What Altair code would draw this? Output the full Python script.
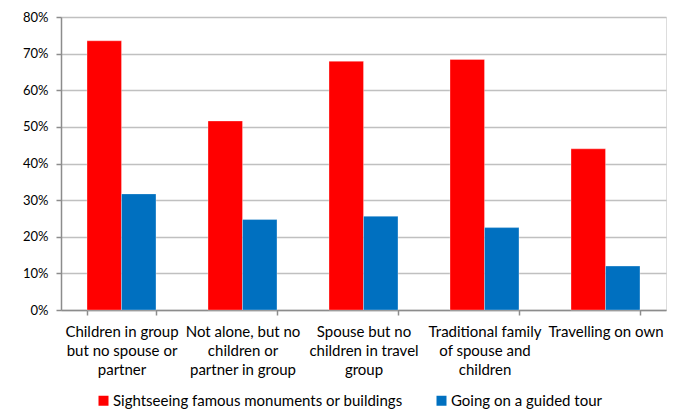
import altair as alt
import pandas as pd

categories = [
    "Children in group|but no spouse or|partner",
    "Not alone, but no|children or|partner in group",
    "Spouse but no|children in travel|group",
    "Traditional family|of spouse and|children",
    "Travelling on own",
]
series_names = ["Sightseeing famous monuments or buildings", "Going on a guided tour"]
sightseeing = [0.735, 0.516, 0.679, 0.684, 0.440]
guided_tour = [0.317, 0.247, 0.256, 0.225, 0.120]
colors = ["#ff0000", "#0070c0"]

rows = []
for c, a, b in zip(categories, sightseeing, guided_tour):
    rows.append({"category": c, "series": series_names[0], "value": a})
    rows.append({"category": c, "series": series_names[1], "value": b})
df = pd.DataFrame(rows)

FONT = "Lato"

chart = alt.Chart(df).mark_bar(stroke="white", strokeOpacity=0.5, strokeWidth=0.6).encode(
    x=alt.X(
        "category:N",
        sort=categories,
        title=None,
        scale=alt.Scale(paddingInner=0.43, paddingOuter=0.215),
        axis=alt.Axis(
            labelAngle=0,
            labelExpr="isString(datum.value) ? split(datum.value, '|') : ''",
            tickBand="extent",
            tickSize=5,
            labelPadding=9,
            labelFontSize=15,
            labelLineHeight=19,
            labelFont=FONT,
            labelColor="#000000",
            domainColor="#8c8c8c",
            domainWidth=1.5,
            tickColor="#8c8c8c",
            tickWidth=1.5,
            grid=False,
            labelLimit=200,
        ),
    ),
    xOffset=alt.XOffset("series:N", sort=series_names),
    y=alt.Y(
        "value:Q",
        title=None,
        scale=alt.Scale(domain=[0, 0.8], nice=False),
        axis=alt.Axis(
            format=".0%",
            values=[0, 0.1, 0.2, 0.3, 0.4, 0.5, 0.6, 0.7, 0.8],
            tickSize=5,
            labelPadding=8,
            labelFontSize=13,
            labelFont=FONT,
            labelColor="#000000",
            domainColor="#8c8c8c",
            domainWidth=1.5,
            tickColor="#8c8c8c",
            tickWidth=1.5,
            gridColor="#c0c0c0",
            gridWidth=1.5,
        ),
    ),
    color=alt.Color(
        "series:N",
        sort=series_names,
        scale=alt.Scale(domain=series_names, range=colors),
        legend=alt.Legend(
            title=None,
            orient="none",
            direction="horizontal",
            legendX=35,
            legendY=376,
            symbolType="square",
            symbolSize=100,
            symbolStrokeWidth=0,
            labelFontSize=15,
            labelFont=FONT,
            labelColor="#000000",
            labelOffset=2,
            columnPadding=31,
            labelLimit=400,
        ),
    ),
).properties(
    width=605,
    height=293,
    autosize=alt.AutoSizeParams(type="none"),
    padding={"left": 61, "top": 17, "right": 17, "bottom": 105},
).configure_view(stroke=None).configure(background="white")

chart.save("out.html", embed_options={"renderer": "svg", "actions": False})
